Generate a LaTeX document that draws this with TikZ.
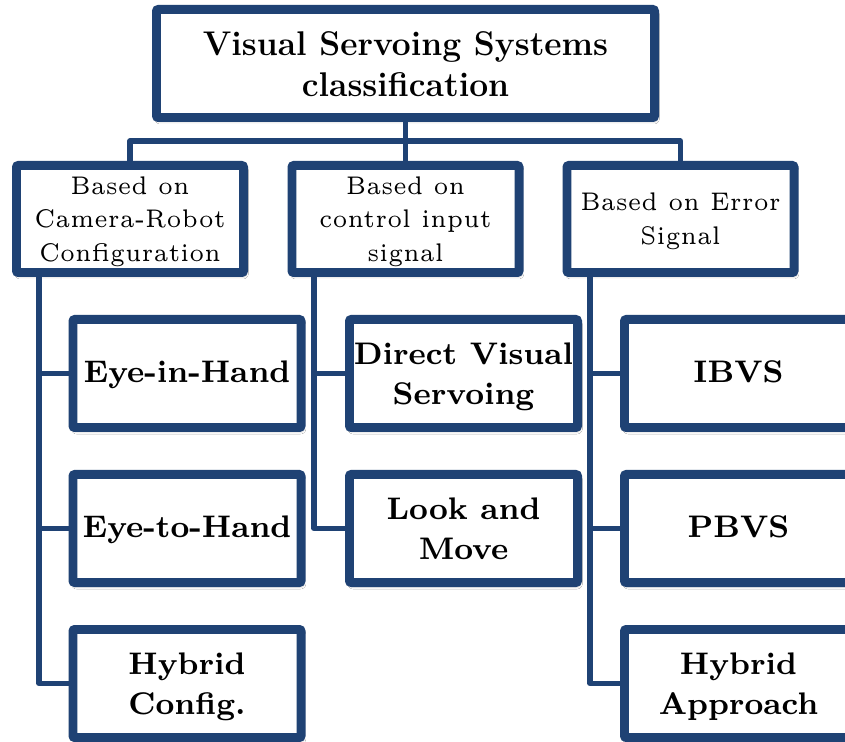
\documentclass[tikz,border=0pt]{standalone}
\usepackage{graphicx}
\usetikzlibrary{shadows.blur}
\definecolor{navy}{RGB}{31,66,116}
% one unit = one pixel of the 845 x 742 canvas, y running downwards
% [#1]: downward offset; #2, #3: horizontal and vertical magnification
% of a centred block of lines #4
\newcommand\widetext[4][0pt]{\raisebox{-#1}[\height][\depth]{%
  \scalebox{#2}[#3]{\begin{tabular}{@{}c@{}}#4\end{tabular}}}}
\tikzset{
  box/.style={draw=navy, line width=4.4pt, fill=white, rounded corners=1pt,
    inner sep=0pt, align=center, text=black,
    blur shadow={shadow xshift=0.8pt, shadow yshift=-1.6pt,
      shadow blur radius=1.6pt, shadow opacity=35}},
  titlebox/.style={box, minimum width=249.1pt, minimum height=54.1pt,
    font=\fontsize{16.8}{20}\selectfont\bfseries},
  groupbox/.style={box, minimum width=113.6pt, minimum height=53.6pt,
    font=\fontsize{5}{6.6}\selectfont},
  leafbox/.style={box, minimum width=114.1pt, minimum height=54.1pt,
    font=\fontsize{8}{10.26}\selectfont\bfseries},
  link/.style={draw=navy, line width=2.6pt, line join=round}
}
\begin{document}
\begin{tikzpicture}[x=0.5pt, y=-0.5pt]
  \clip (0,0) rectangle (845,742);
  \fill[white] (0,0) rectangle (845,742);

  % trunks of the three groups and the bus under the title
  \coordinate (bus) at (405.5,141);
  \coordinate (trunkA) at (39,0);
  \coordinate (trunkB) at (314,0);
  \coordinate (trunkC) at (590,0);

  % top level
  \node[titlebox] (root) at (405.5,63.5) {\widetext[2pt]{1.0}{1.02}{Visual Servoing Systems\\classification}};

  % classification criteria
  \node[groupbox] (camera) at (130,219) {\widetext[1pt]{2.2}{2.55}{Based on\\Camera-Robot\\Configuration}};
  \node[groupbox] (control) at (405.5,219) {\widetext[1pt]{2.2}{2.55}{Based on\\control input\\signal}};
  \node[groupbox] (error) at (680.5,219) {\widetext[1pt]{2.2}{2.55}{Based on Error\\Signal}};

  % first group
  \node[leafbox] (inhand) at (187,373.5) {\widetext[0.5pt]{1.92}{1.95}{Eye-in-Hand}};
  \node[leafbox] (tohand) at (187,528.5) {\widetext[0.5pt]{1.92}{1.95}{Eye-to-Hand}};
  \node[leafbox] (hybridcfg) at (187,683.5) {\widetext[1.5pt]{1.92}{1.95}{Hybrid\\Config.}};

  % second group
  \node[leafbox] (direct) at (463.5,373.5) {\widetext[1.5pt]{1.92}{1.95}{Direct Visual\\Servoing}};
  \node[leafbox] (lookmove) at (463.5,528.5) {\widetext[1.5pt]{1.92}{1.95}{Look and\\Move}};

  % third group
  \node[leafbox] (ibvs) at (738.5,373.5) {\widetext[0.5pt]{1.92}{1.95}{IBVS}};
  \node[leafbox] (pbvs) at (738.5,528.5) {\widetext[0.5pt]{1.92}{1.95}{PBVS}};
  \node[leafbox] (hybridapp) at (738.5,683.5) {\widetext[1.5pt]{1.92}{1.95}{Hybrid\\Approach}};

  % connectors from the root to the criteria
  \draw[link] (root.south) -- (bus);
  \draw[link] (bus) -| (camera.north);
  \draw[link] (bus) -| (error.north);
  \draw[link] (bus) -- (control.north);

  % connectors from the criteria to their classes
  \draw[link] (camera.south -| trunkA) |- (hybridcfg.west);
  \draw[link] (trunkA |- inhand.west) -- (inhand.west);
  \draw[link] (trunkA |- tohand.west) -- (tohand.west);

  \draw[link] (control.south -| trunkB) |- (lookmove.west);
  \draw[link] (trunkB |- direct.west) -- (direct.west);

  \draw[link] (error.south -| trunkC) |- (hybridapp.west);
  \draw[link] (trunkC |- ibvs.west) -- (ibvs.west);
  \draw[link] (trunkC |- pbvs.west) -- (pbvs.west);
\end{tikzpicture}
\end{document}
